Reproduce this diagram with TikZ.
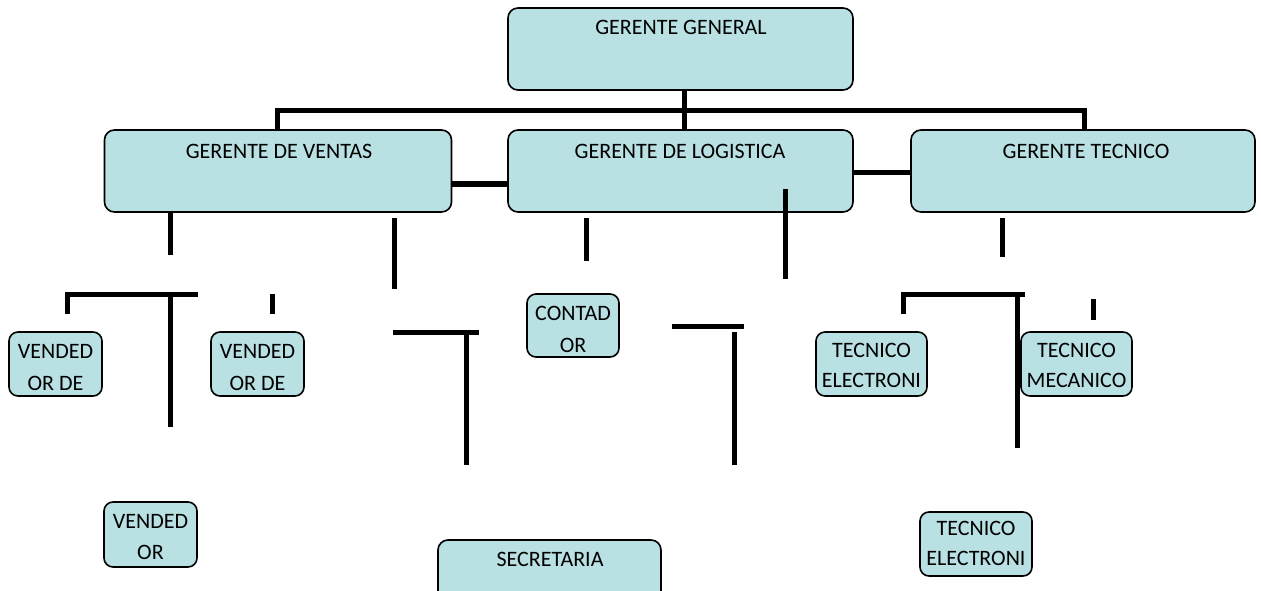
\documentclass[tikz,border=0pt]{standalone}
\usepackage{fontspec}
\setmainfont{Carlito}
\definecolor{boxblue}{RGB}{185,224,227}
\begin{document}
\begin{tikzpicture}[x=1pt,y=-1pt,
  box/.style={draw=black, line width=1.6pt, fill=boxblue, rounded corners=10pt, inner sep=0pt, outer sep=0pt},
  bigbox/.style={box, minimum width=#1, minimum height=82pt},
  smallbox/.style={box, rounded corners=9pt, minimum width=#1, minimum height=64pt},
  lbl/.style={anchor=base, inner sep=0pt, font=\fontsize{22}{26}\selectfont},
  conn/.style={line width=5pt, line cap=butt, line join=miter}]
\useasboundingbox (0,0) rectangle (1261,591);
\clip (0,0) rectangle (1261,591);
% boxes
\node[bigbox=345pt] (gg)  at (680.5,49) {};
\node[bigbox=347pt] (ven) at (278,171) {};
\node[bigbox=345pt] (log) at (680.5,171) {};
\node[bigbox=344pt] (tec) at (1083,171) {};
\node[smallbox=93pt] (v1) at (55.5,364) {};
\node[smallbox=93pt] (v2) at (257.5,364) {};
\node[smallbox=93pt, minimum height=65pt] (v3) at (150.5,534.5) {};
\node[smallbox=92pt, minimum height=63pt] (cont) at (573,325.5) {};
\node[box, minimum width=223pt, minimum height=70pt] (sec) at (549.5,575) {};
\node[smallbox=111pt] (te1) at (871.5,364) {};
\node[smallbox=111pt] (tm) at (1076.5,364) {};
\node[smallbox=112pt] (te2) at (976,544) {};
% texts
\node[lbl] (tgg)  at (681,35) {GERENTE GENERAL};
\node[lbl] (tven) at (279,158) {GERENTE DE VENTAS};
\node[lbl] (tlog) at (680,158) {GERENTE DE LOGISTICA};
\node[lbl] (ttec) at (1086,158) {GERENTE TECNICO};
\node[lbl] (tv1a) at (55.5,358) {VENDED};
\node[lbl] (tv1b) at (55.5,390) {OR DE};
\node[lbl] (tv2a) at (257.5,358) {VENDED};
\node[lbl] (tv2b) at (257.5,390) {OR DE};
\node[lbl] (tv3a) at (150.5,528) {VENDED};
\node[lbl] (tv3b) at (150.5,559) {OR};
\node[lbl] (tca) at (573,320) {CONTAD};
\node[lbl] (tcb) at (573,352) {OR};
\node[lbl] (tsec) at (550,566) {SECRETARIA};
\node[lbl] (te1a) at (871.5,357) {TECNICO};
\node[lbl] (te1b) at (871.5,387) {ELECTRONI};
\node[lbl] (tma) at (1076.5,357) {TECNICO};
\node[lbl] (tmb) at (1076.5,387) {MECANICO};
\node[lbl] (te2a) at (976,535) {TECNICO};
\node[lbl] (te2b) at (976,565) {ELECTRONI};
% top tree
\draw[conn] (gg.south -| 684,0) -- (684,130);
\draw[conn] (277,130) -- (277,111) -- (1084,111) -- (1084,130);
\draw[conn, line width=6pt] (ven.east |- 0,184) -- (log.west |- 0,184);
\draw[conn] (log.east |- 0,172) -- (tec.west |- 0,172);
\draw[conn] (785,189) -- (785,279);
% ventas group
\draw[conn] (170,213) -- (170,255);
\draw[conn] (394,218) -- (394,289);
\draw[conn] (67,314) -- (67,294) -- (198,294);
\draw[conn] (170,294) -- (170,427);
\draw[conn] (272,294) -- (272,314);
\draw[conn] (393,332) -- (479,332);
\draw[conn] (466,332) -- (466,465);
% logistica group
\draw[conn] (586,218) -- (586,261);
\draw[conn] (672,326) -- (744,326);
\draw[conn] (734,332) -- (734,465);
% tecnico group
\draw[conn] (1002,218) -- (1002,257);
\draw[conn] (903,314) -- (903,294) -- (1025,294);
\draw[conn] (1017,294) -- (1017,448);
\draw[conn] (1093,299) -- (1093,320);
\end{tikzpicture}
\end{document}
